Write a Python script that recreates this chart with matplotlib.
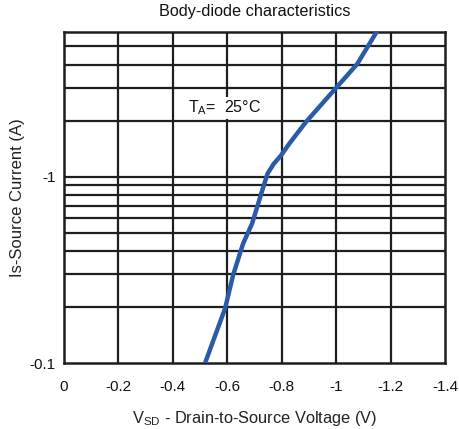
import matplotlib
matplotlib.use("Agg")
import matplotlib.pyplot as plt
import numpy as np

plt.rcParams['font.family'] = ['Liberation Sans', 'DejaVu Sans']
plt.rcParams['mathtext.default'] = 'regular'

# Data (V_SD in volts, Is in amperes, negative)
vsd = [-0.505, -0.518, -0.592, -0.621, -0.658, -0.691, -0.709, -0.728, -0.748,
       -0.770, -0.797, -0.827, -0.889, -0.996, -1.077, -1.146, -1.16]
isrc = [-0.09, -0.1, -0.197, -0.296, -0.438, -0.561, -0.683, -0.842, -1.04,
        -1.17, -1.30, -1.50, -1.968, -2.955, -4.02, -5.89, -6.4]

x_ticks = [0, -0.2, -0.4, -0.6, -0.8, -1, -1.2, -1.4]
x_tick_labels = ['0', '-0.2', '-0.4', '-0.6', '-0.8', '-1', '-1.2', '-1.4']
y_ticks = [-0.1, -1]
y_tick_labels = ['-0.1', '-1']
y_grid = [-0.2, -0.3, -0.4, -0.5, -0.6, -0.7, -0.8, -0.9, -1, -2, -3, -4, -5]

fig = plt.figure(figsize=(4.6, 4.29), dpi=100)
ax = fig.add_axes([64/460, 1-363.3/429, (445-64)/460, (363.3-31.7)/429])

grid_color = '#1e1e1e'
for gx in x_ticks[1:-1]:
    ax.axvline(gx, color=grid_color, lw=1.6, zorder=1)
for gy in y_grid:
    ax.axhline(-gy, color=grid_color, lw=1.6, zorder=1)

ax.plot(vsd, [-v for v in isrc], color='#2a5aa8', lw=3.2, zorder=3,
        solid_capstyle='butt', solid_joinstyle='round')

ax.set_yscale('log')
ax.set_xlim(0, -1.4)
ax.set_ylim(0.1, 6.0)
ax.set_xticks(x_ticks)
ax.set_xticklabels(x_tick_labels)
ax.set_yticks([-v for v in y_ticks])
ax.set_yticklabels(y_tick_labels)
ax.yaxis.set_minor_locator(matplotlib.ticker.NullLocator())
ax.tick_params(axis='both', length=0, labelsize=11, colors='#111111')
ax.tick_params(axis='x', pad=12)
ax.tick_params(axis='y', pad=6)
for s in ax.spines.values():
    s.set_color(grid_color)
    s.set_linewidth(1.8)

ax.text(-0.455, 2.34, r'T$_{A}$=  25°C', fontsize=11.5, color='#111111',
        va='center', ha='left', zorder=2,
        bbox=dict(facecolor='white', edgecolor='none', pad=1.5))

ax.set_title('Body-diode characteristics', fontsize=11.7, color='#111111', pad=11.5)
ax.set_xlabel(r'V$_{SD}$ - Drain-to-Source Voltage (V)', fontsize=11.8, color='#222222', labelpad=11)
ax.set_ylabel('Is-Source Current (A)', fontsize=12, color='#222222', labelpad=3)

fig.savefig('out.png', dpi=100)
